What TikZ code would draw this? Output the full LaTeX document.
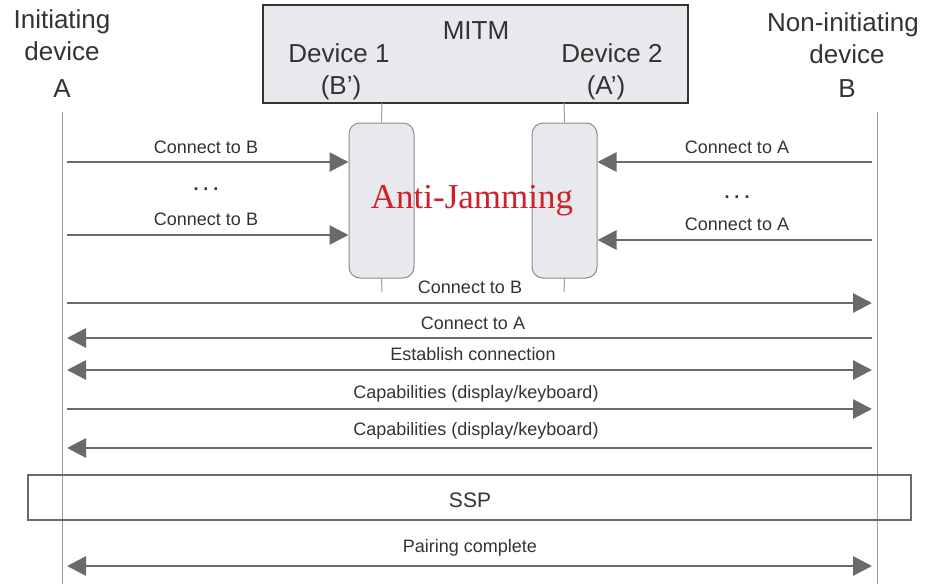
\documentclass[tikz,border=0pt]{standalone}
\usepackage{fontspec}
\setmainfont{Liberation Sans}
\newfontfamily\serifjam{Liberation Serif}
\usetikzlibrary{arrows.meta}
\definecolor{txt}{HTML}{333333}
\definecolor{arr}{HTML}{6A6A6A}
\definecolor{life}{HTML}{9A9A9A}
\definecolor{boxfill}{HTML}{E8E9ED}
\definecolor{jam}{HTML}{D0202A}
\tikzset{
  msg/.style={draw=arr, line width=2.9pt, -{Triangle[length=19pt,width=19pt]}},
  msgb/.style={draw=arr, line width=2.9pt, {Triangle[length=19pt,width=19pt]}-{Triangle[length=19pt,width=19pt]}},
  lbl/.style={text=txt, font=\fontsize{18}{20}\selectfont, anchor=base, inner sep=0pt},
  head/.style={text=txt, font=\fontsize{26}{28}\selectfont, anchor=base, inner sep=0pt},
  lifeline/.style={draw=life, line width=1pt},
  jambox/.style={draw=gray!90, fill=boxfill, rounded corners=11pt, line width=1pt, minimum width=65pt, minimum height=155pt, inner sep=0pt},
  tick/.style={draw=life, line width=1pt}
}
\newcommand{\mydots}{\textbf{.\hspace{5pt}.\hspace{5pt}.}}
\begin{document}
\begin{tikzpicture}[x=1pt,y=-1pt]
\useasboundingbox (0,0) rectangle (931,584);
% headers
\node[head] (hA1) at (62,28) {Initiating};
\node[head] (hA2) at (62,60) {device};
\node[head] (hA3) at (62,97) {A};
\node[head] (hB1) at (843,31) {Non-initiating};
\node[head] (hB2) at (847,63) {device};
\node[head] (hB3) at (847,97) {B};
% MITM box
\node[draw=black!80, fill=boxfill, line width=1.6pt, minimum width=425pt, minimum height=98pt, inner sep=0pt] (mitm) at (475.5,54) {};
\node[head] (mt) at (476,39) {MITM};
\node[head] (d1) at (339,62) {Device 1};
\node[head] (d1b) at (341,94) {(B’)};
\node[head] (d2) at (612,62) {Device 2};
\node[head] (d2b) at (606,94) {(A’)};
% lifelines
\coordinate (Atop) at (62,112);
\coordinate (Abot) at (62,584);
\coordinate (Btop) at (877,112);
\coordinate (Bbot) at (877,584);
\draw[lifeline] (Atop) -- (Abot);
\draw[lifeline] (Btop) -- (Bbot);
% anti-jamming boxes
\node[jambox] (j1) at (381.5,200.5) {};
\node[jambox] (j2) at (564.5,200.5) {};
\coordinate (t1a) at (382,103);
\coordinate (t1b) at (382,292);
\coordinate (t2a) at (564,103);
\coordinate (t2b) at (564,292);
\draw[tick] (t1a) -- (j1.north);
\draw[tick] (j1.south) -- (t1b);
\draw[tick] (t2a) -- (j2.north);
\draw[tick] (j2.south) -- (t2b);
\node[anchor=base, inner sep=0pt, text=jam, font=\serifjam\fontsize{35}{38}\selectfont] (aj) at (472,208) {Anti-Jamming};
% short messages
\coordinate (s1a) at (67,162);
\coordinate (s1b) at (j1.west |- s1a);
\coordinate (s2a) at (67,235);
\coordinate (s2b) at (j1.west |- s2a);
\coordinate (s3a) at (872,162);
\coordinate (s3b) at (j2.east |- s3a);
\coordinate (s4a) at (872,240);
\coordinate (s4b) at (j2.east |- s4a);
\draw[msg] (s1a) -- (s1b);
\draw[msg] (s2a) -- (s2b);
\draw[msg] (s3a) -- (s3b);
\draw[msg] (s4a) -- (s4b);
\node[lbl] (l1) at (206,153) {Connect to B};
\node[lbl] (l2) at (206,225) {Connect to B};
\node[lbl] (l3) at (737,153) {Connect to A};
\node[lbl] (l4) at (737,230) {Connect to A};
\node[lbl] (dl) at (206,190) {\mydots};
\node[lbl] (dr) at (737,198) {\mydots};
% long messages
\coordinate (m1a) at (67,303);  \coordinate (m1b) at (872,303);
\coordinate (m2a) at (67,338);  \coordinate (m2b) at (872,338);
\coordinate (m3a) at (67,370);  \coordinate (m3b) at (872,370);
\coordinate (m4a) at (67,409);  \coordinate (m4b) at (872,409);
\coordinate (m5a) at (67,448);  \coordinate (m5b) at (872,448);
\coordinate (m6a) at (67,566);  \coordinate (m6b) at (872,566);
\draw[msg] (m1a) -- (m1b);
\draw[msg] (m2b) -- (m2a);
\draw[msgb] (m3a) -- (m3b);
\draw[msg] (m4a) -- (m4b);
\draw[msg] (m5b) -- (m5a);
\draw[msgb] (m6a) -- (m6b);
\node[lbl] (ml1) at (470,293) {Connect to B};
\node[lbl] (ml2) at (473,329) {Connect to A};
\node[lbl] (ml3) at (473,360) {Establish connection};
\node[lbl] (ml4) at (476,398) {Capabilities (display/keyboard)};
\node[lbl] (ml5) at (476,435) {Capabilities (display/keyboard)};
\node[lbl] (ml6) at (470,552) {Pairing complete};
% SSP
\node[draw=arr, line width=1.4pt, minimum width=883pt, minimum height=45pt, inner sep=0pt] (ssp) at (469.5,497.5) {};
\node[text=txt, font=\fontsize{21}{23}\selectfont, anchor=base, inner sep=0pt] (ssptxt) at (470,507) {SSP};
\end{tikzpicture}
\end{document}
